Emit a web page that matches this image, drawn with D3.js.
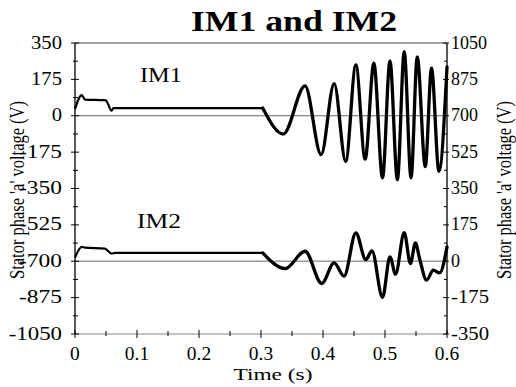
<!DOCTYPE html>
<html>
<head>
<meta charset="utf-8">
<script src="https://cdn.jsdelivr.net/npm/d3@7"></script>
<style>
  html, body { margin: 0; padding: 0; background: #fff; }
  svg { display: block; }
</style>
</head>
<body>
<svg id="chart" width="516" height="387"></svg>
<script>
// ---- data ----
const titleText = "IM1 and IM2";
const xLabel = "Time (s)";
const yLabel = "Stator phase 'a' voltage (V)";

const xTicks = [0, 0.1, 0.2, 0.3, 0.4, 0.5, 0.6];
const xTickLabels = ["0", "0.1", "0.2", "0.3", "0.4", "0.5", "0.6"];
const leftTicks = [350, 175, 0, -175, -350, -525, -700, -875, -1050];
const rightTicks = [1050, 875, 700, 525, 350, 175, 0, -175, -350];

// IM1 plotted against the left axis
const im1Time   = [0, 0.011, 0.016, 0.048, 0.051, 0.059, 0.062, 0.3027, 0.336, 0.371, 0.397, 0.418, 0.4366, 0.453, 0.468, 0.482, 0.496, 0.508, 0.520, 0.531, 0.542, 0.552, 0.565, 0.575, 0.587, 0.6];
const im1Values = [32, 99, 78, 75, 70, 24, 37, 37, -88, 144, -187, 155, -220, 245, -209, 253, -299, 264, -308, 308, -299, 283, -245, 229, -267, 235];

// IM2 plotted against the right axis
const im2Time   = [0, 0.011, 0.016, 0.048, 0.059, 0.065, 0.3027, 0.339, 0.371, 0.398, 0.418, 0.434, 0.453, 0.469, 0.479, 0.496, 0.508, 0.517, 0.531, 0.541, 0.549, 0.556, 0.567, 0.578, 0.588, 0.6];
const im2Values = [18, 69, 66, 61, 37, 40, 40, -35, 48, -107, -8, -72, 136, 8, 50, -174, 21, -62, 137, -11, 88, 10, -91, -43, -56, 69];

// ---- layout ----
const FONT = "'Liberation Serif', 'Times New Roman', Tinos, Times, serif";
const L = 75, R = 447, T = 43, B = 334;
const SPLIT = 0.3027; // start of the oscillating part (drawn heavier)
const svg = d3.select("#chart");

const x = d3.scaleLinear().domain([0, 0.6]).range([L, R]);
const yL = d3.scaleLinear().domain([-1050, 350]).range([B, T]);
const yR = d3.scaleLinear().domain([-350, 1050]).range([B, T]);

// widen text horizontally (the reference type is stretched)
function widen(sel, factor, minusExtra) {
  sel.each(function () {
    const w = this.getComputedTextLength();
    const neg = this.textContent.startsWith("-") ? minusExtra : 0;
    d3.select(this).attr("textLength", w * factor + neg).attr("lengthAdjust", "spacingAndGlyphs");
  });
}

// top border
svg.append("line").attr("x1", L).attr("x2", R).attr("y1", T).attr("y2", T)
  .attr("stroke", "#444").attr("stroke-width", 1);

// zero reference lines
svg.append("line").attr("x1", L).attr("x2", R).attr("y1", yL(0)).attr("y2", yL(0))
  .attr("stroke", "#666").attr("stroke-width", 1);
svg.append("line").attr("x1", L).attr("x2", R).attr("y1", yR(0)).attr("y2", yR(0))
  .attr("stroke", "#999").attr("stroke-width", 1.3);

// bottom axis
const gx = svg.append("g");
gx.append("line").attr("x1", L).attr("x2", R).attr("y1", B).attr("y2", B)
  .attr("stroke", "#888").attr("stroke-width", 1.2);
const xMinor = d3.range(0.05, 0.6, 0.1);
gx.selectAll(".xmaj").data(xTicks).join("line")
  .attr("x1", d => x(d)).attr("x2", d => x(d)).attr("y1", B - 4).attr("y2", B + 4)
  .attr("stroke", "#000").attr("stroke-width", 1);
gx.selectAll(".xmin").data(xMinor).join("line")
  .attr("x1", d => x(d)).attr("x2", d => x(d)).attr("y1", B - 3).attr("y2", B + 2)
  .attr("stroke", "#000").attr("stroke-width", 1);
const xl = gx.selectAll(".xl").data(xTicks).join("text")
  .attr("x", d => x(d)).attr("y", 360)
  .attr("text-anchor", "middle").attr("font-size", 18).attr("font-family", FONT)
  .text((d, i) => xTickLabels[i]);
widen(xl, 1.08, 0);

// left axis
const gl = svg.append("g");
gl.append("line").attr("x1", L).attr("x2", L).attr("y1", T).attr("y2", B)
  .attr("stroke", "#000").attr("stroke-width", 1.3);
const yMinor = d3.range(-1050 + 87.5, 350, 175);
gl.selectAll(".lmaj").data(leftTicks).join("line")
  .attr("x1", L - 4).attr("x2", L + 4).attr("y1", d => yL(d)).attr("y2", d => yL(d))
  .attr("stroke", "#000").attr("stroke-width", 1);
gl.selectAll(".lmin").data(yMinor).join("line")
  .attr("x1", L - 2).attr("x2", L + 3).attr("y1", d => yL(d)).attr("y2", d => yL(d))
  .attr("stroke", "#000").attr("stroke-width", 1);
const ll = gl.selectAll(".ll").data(leftTicks).join("text")
  .attr("x", 62).attr("y", d => yL(d) + 5.5)
  .attr("text-anchor", "end").attr("font-size", 18).attr("font-family", FONT)
  .text(d => d);
widen(ll, 1.15, 5);

// right axis
const gr = svg.append("g");
gr.append("line").attr("x1", R).attr("x2", R).attr("y1", T).attr("y2", B)
  .attr("stroke", "#000").attr("stroke-width", 1.3);
const rMinor = d3.range(-350 + 87.5, 1050, 175);
gr.selectAll(".rmaj").data(rightTicks).join("line")
  .attr("x1", R - 4).attr("x2", R + 2).attr("y1", d => yR(d)).attr("y2", d => yR(d))
  .attr("stroke", "#000").attr("stroke-width", 1);
gr.selectAll(".rmin").data(rMinor).join("line")
  .attr("x1", R - 3).attr("x2", R).attr("y1", d => yR(d)).attr("y2", d => yR(d))
  .attr("stroke", "#000").attr("stroke-width", 1);
const rl = gr.selectAll(".rl").data(rightTicks).join("text")
  .attr("x", 451).attr("y", d => yR(d) + 5.5)
  .attr("text-anchor", "start").attr("font-size", 18).attr("font-family", FONT)
  .text(d => d);
widen(rl, 1.0, 5);

// series: quiet start-up part thinner, oscillating part heavier
const line = d3.line().curve(d3.curveMonotoneX);
function drawSeries(times, values, y) {
  const pts = times.map((t, i) => [x(t), y(values[i])]);
  const early = pts.filter((p, i) => times[i] <= SPLIT);
  const late = pts.filter((p, i) => times[i] >= SPLIT);
  svg.append("path").attr("d", line(early)).attr("fill", "none")
    .attr("stroke", "#000").attr("stroke-width", 2.2).attr("stroke-linejoin", "round");
  svg.append("path").attr("d", line(late)).attr("fill", "none")
    .attr("stroke", "#000").attr("stroke-width", 3.3).attr("stroke-linejoin", "round")
    .attr("stroke-linecap", "round");
}
drawSeries(im1Time, im1Values, yL);
drawSeries(im2Time, im2Values, yR);

// series labels
svg.append("text").attr("x", 140).attr("y", 82).attr("font-size", 20).attr("font-family", FONT)
  .attr("textLength", 42).attr("lengthAdjust", "spacingAndGlyphs").text("IM1");
svg.append("text").attr("x", 137).attr("y", 228).attr("font-size", 20).attr("font-family", FONT)
  .attr("textLength", 44).attr("lengthAdjust", "spacingAndGlyphs").text("IM2");

// title
svg.append("text").attr("x", 294).attr("y", 31).attr("text-anchor", "middle")
  .attr("font-size", 29).attr("font-weight", "bold").attr("font-family", FONT)
  .attr("textLength", 206).attr("lengthAdjust", "spacingAndGlyphs").text(titleText);

// x label
svg.append("text").attr("x", 273).attr("y", 380).attr("text-anchor", "middle")
  .attr("font-size", 17).attr("font-family", FONT)
  .attr("textLength", 79).attr("lengthAdjust", "spacingAndGlyphs").text(xLabel);

// y labels (left and right)
svg.append("text").attr("transform", "translate(24,190) rotate(-90)")
  .attr("text-anchor", "middle").attr("font-size", 20).attr("font-family", FONT)
  .attr("textLength", 178).attr("lengthAdjust", "spacingAndGlyphs").text(yLabel);
svg.append("text").attr("transform", "translate(511,190) rotate(-90)")
  .attr("text-anchor", "middle").attr("font-size", 20).attr("font-family", FONT)
  .attr("textLength", 178).attr("lengthAdjust", "spacingAndGlyphs").text(yLabel);
</script>
</body>
</html>
